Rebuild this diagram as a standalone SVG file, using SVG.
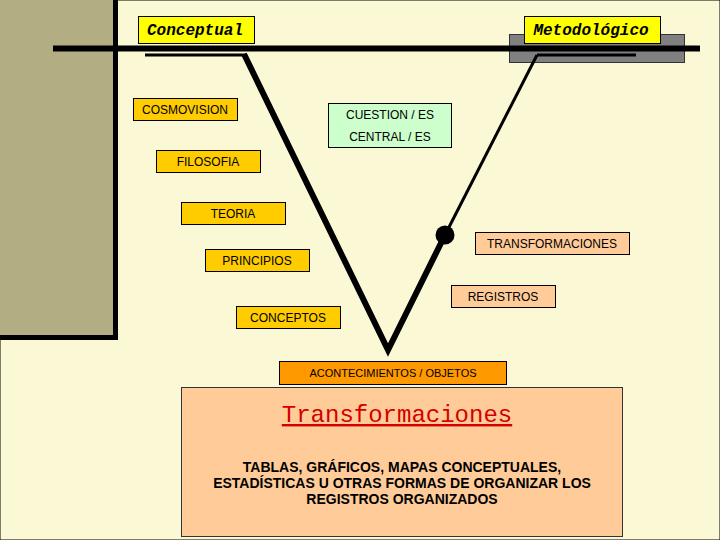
<svg xmlns="http://www.w3.org/2000/svg" width="720" height="540" viewBox="0 0 720 540">
<style>
.bx{stroke:#000;stroke-width:1}
.t{font-family:"Liberation Sans",Arial,sans-serif;font-size:12px;fill:#000;text-anchor:middle}
.h{font-family:"Liberation Mono","Courier New",monospace;font-size:16px;font-weight:bold;font-style:italic;fill:#000;text-anchor:middle}
.gold{fill:#FFCC00}
.peach{fill:#FFCC99}
</style>
<rect x="0" y="0" width="720" height="540" fill="#FBF8D6" stroke="#000" stroke-width="1"/>
<rect x="0" y="0" width="116" height="338" fill="#B3AD84"/>
<g id="panel-edges" stroke="#000" stroke-width="5">
<line x1="115.5" y1="0" x2="115.5" y2="340"/>
<line x1="0" y1="337.5" x2="118" y2="337.5"/>
</g>
<g id="metodo-bar">
<rect x="509.5" y="34.5" width="175" height="28" fill="#808080" stroke="#333" stroke-width="1"/>
</g>
<g id="connectors" stroke="#000" fill="none">
<line x1="53" y1="48.5" x2="700" y2="48.5" stroke-width="6"/>
<line x1="145" y1="55" x2="246" y2="55" stroke-width="3"/>
<line x1="537" y1="55" x2="636" y2="55" stroke-width="3"/>
<polyline points="244,54 388,350 445,235" stroke-width="6" stroke-linejoin="miter"/>
<line x1="537" y1="55" x2="445" y2="235" stroke-width="3"/>
<circle cx="445" cy="235" r="9.5" fill="#000" stroke="none"/>
</g>
<g id="conceptual">
<rect class="bx" x="138.5" y="16.5" width="116" height="27" fill="#FFFF00"/>
<text class="h" x="195" y="35">Conceptual</text>
</g>
<g id="metodologico">
<rect class="bx" x="524.5" y="16.5" width="136" height="27" fill="#FFFF00"/>
<text class="h" x="591" y="35">Metodológico</text>
</g>
<g id="cosmovision">
<rect class="bx gold" x="133.5" y="98.5" width="104" height="22"/>
<text class="t" x="185" y="114">COSMOVISION</text>
</g>
<g id="filosofia">
<rect class="bx gold" x="156.5" y="150.5" width="104" height="22"/>
<text class="t" x="208" y="166">FILOSOFIA</text>
</g>
<g id="teoria">
<rect class="bx gold" x="181.5" y="202.5" width="104" height="22"/>
<text class="t" x="233" y="218">TEORIA</text>
</g>
<g id="principios">
<rect class="bx gold" x="205.5" y="249.5" width="104" height="22"/>
<text class="t" x="257" y="265">PRINCIPIOS</text>
</g>
<g id="conceptos">
<rect class="bx gold" x="236.5" y="306.5" width="104" height="22"/>
<text class="t" x="288" y="322">CONCEPTOS</text>
</g>
<g id="cuestion">
<rect class="bx" x="328.5" y="103.5" width="123" height="44" fill="#CCFFCC"/>
<text class="t" x="390" y="119">CUESTION / ES</text>
<text class="t" x="390" y="141">CENTRAL / ES</text>
</g>
<g id="transformaciones">
<rect class="bx peach" x="475.5" y="232.5" width="154" height="22"/>
<text class="t" x="552" y="248">TRANSFORMACIONES</text>
</g>
<g id="registros">
<rect class="bx peach" x="451.5" y="285.5" width="104" height="22"/>
<text class="t" x="503" y="301">REGISTROS</text>
</g>
<g id="acontecimientos">
<rect class="bx" x="279.5" y="361.5" width="227" height="23" fill="#FF9900"/>
<text class="t" x="393" y="377" style="font-size:11px">ACONTECIMIENTOS / OBJETOS</text>
</g>
<g id="resultado">
<rect x="181.5" y="387.5" width="441" height="149" fill="#FFCC99" stroke="#333" stroke-width="1"/>
<text x="397" y="422" style="font-family:'Liberation Mono','Courier New',monospace;font-size:24px;fill:#D40000;text-anchor:middle;text-decoration:underline">Transformaciones</text>
<g style="font-family:'Liberation Sans',Arial,sans-serif;font-size:14px;font-weight:bold;fill:#000;text-anchor:middle">
<text x="402" y="472">TABLAS, GRÁFICOS, MAPAS CONCEPTUALES,</text>
<text x="402" y="488">ESTADÍSTICAS U OTRAS FORMAS DE ORGANIZAR LOS</text>
<text x="402" y="504">REGISTROS ORGANIZADOS</text>
</g>
</g>
</svg>
